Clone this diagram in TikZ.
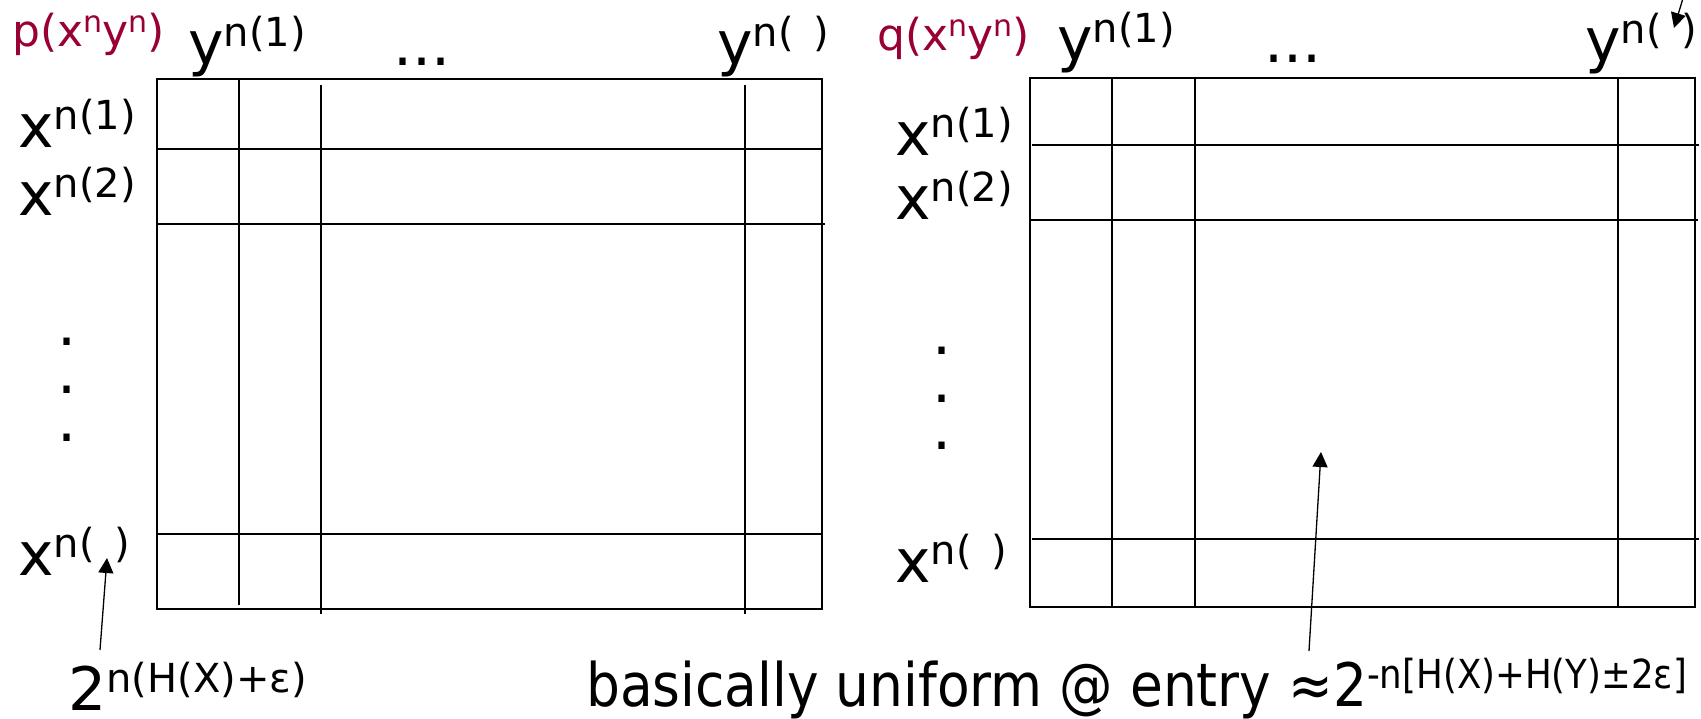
\documentclass[tikz,border=0pt]{standalone}
\usepackage{fontspec}
\usepackage{graphicx}
\setmainfont{DejaVu Sans}
\usetikzlibrary{arrows.meta}
\definecolor{distred}{RGB}{153,0,51}
% superscripts for the big labels and for the red labels
\newcommand{\supx}[1]{\raisebox{18pt}{\fontsize{40}{40}\selectfont #1}}
\newcommand{\supr}[1]{\raisebox{14pt}{\fontsize{30}{30}\selectfont #1}}
\newcommand{\blank}{\hspace{20pt}}

\begin{document}
\begin{tikzpicture}[
    x=1pt, y=-1pt,
    grid/.style={line width=1.6pt},
    arw/.style={-{Triangle[length=15pt,width=15pt]}, line width=1.3pt},
    lbl/.style={anchor=base west, inner sep=0pt, font=\fontsize{60}{62}\selectfont},
    dist/.style={anchor=base west, inner sep=0pt, text=distred, font=\fontsize{44}{46}\selectfont},
    vdot/.style={anchor=base, inner sep=0pt, text height=8pt, text depth=0pt, font=\fontsize{60}{62}\selectfont}
  ]
    \useasboundingbox (0,0) rectangle (1701,718);

    % left table, p(x^n y^n)
    \draw[grid] (157,79) rectangle (822,609);
    \draw[grid] (157,149) -- (822,149);
    \draw[grid] (157,224) -- (825,224);
    \draw[grid] (157,534) -- (822,534);
    \draw[grid] (239,79) -- (239,605);
    \draw[grid] (321,85) -- (321,614);
    \draw[grid] (745,85) -- (745,614);

    \node[dist] (plabel) at (12,46) {p(x\supr{n}y\supr{n})};
    \node[lbl] (ly1) at (188,64) {y\supx{n(1)}};
    \node[lbl] (ldots) at (393,65) {...};
    \node[lbl] (lyT) at (717,64) {y\supx{n(\blank)}};
    \node[lbl] (lx1) at (18,147) {x\supx{n(1)}};
    \node[lbl] (lx2) at (18,215) {x\supx{n(2)}};
    \node[lbl] (lxT) at (18,575) {x\supx{n(\blank)}};
    \foreach \d/\yy in {1/345,2/393,3/441}
      \node[vdot] (ldot\d) at (67,\yy) {.};
    \node[lbl] (lsize) at (68,710) {2\supx{n(H(X)+ε)}};

    \coordinate (ltail) at (100,650);
    \coordinate (ltip) at (107,558);
    \draw[arw] (ltail) -- (ltip);

    % right table, q(x^n y^n)
    \draw[grid] (1030,78) rectangle (1695,607);
    \draw[grid] (1032,145) -- (1699,145);
    \draw[grid] (1030,220) -- (1698,220);
    \draw[grid] (1032,539) -- (1699,539);
    \draw[grid] (1112,78) -- (1112,606);
    \draw[grid] (1195,78) -- (1195,608);
    \draw[grid] (1618,78) -- (1618,608);

    \node[dist] (qlabel) at (877,50) {q(x\supr{n}y\supr{n})};
    \node[lbl] (ry1) at (1057,60) {y\supx{n(1)}};
    \node[lbl] (rdots) at (1264,62) {...};
    \node[lbl] (ryT) at (1585,61) {y\supx{n(\blank)}};
    \node[lbl] (rx1) at (895,155) {x\supx{n(1)}};
    \node[lbl] (rx2) at (895,219) {x\supx{n(2)}};
    \node[lbl] (rxT) at (895,582) {x\supx{n(\blank)}};
    \foreach \d/\yy in {1/354,2/402,3/449}
      \node[vdot] (rdot\d) at (942,\yy) {.};
    \node[lbl] (note) at (586,706) {\scalebox{0.89}[1]{basically uniform @ entry ≈2\supx{-n[H(X)+H(Y)±2ε]}}};

    \coordinate (rtail) at (1309,651);
    \coordinate (rtip) at (1321,452);
    \draw[arw] (rtail) -- (rtip);
    \coordinate (ttail) at (1684,-5);
    \coordinate (ttip) at (1674,28);
    \draw[arw] (ttail) -- (ttip);
\end{tikzpicture}
\end{document}
